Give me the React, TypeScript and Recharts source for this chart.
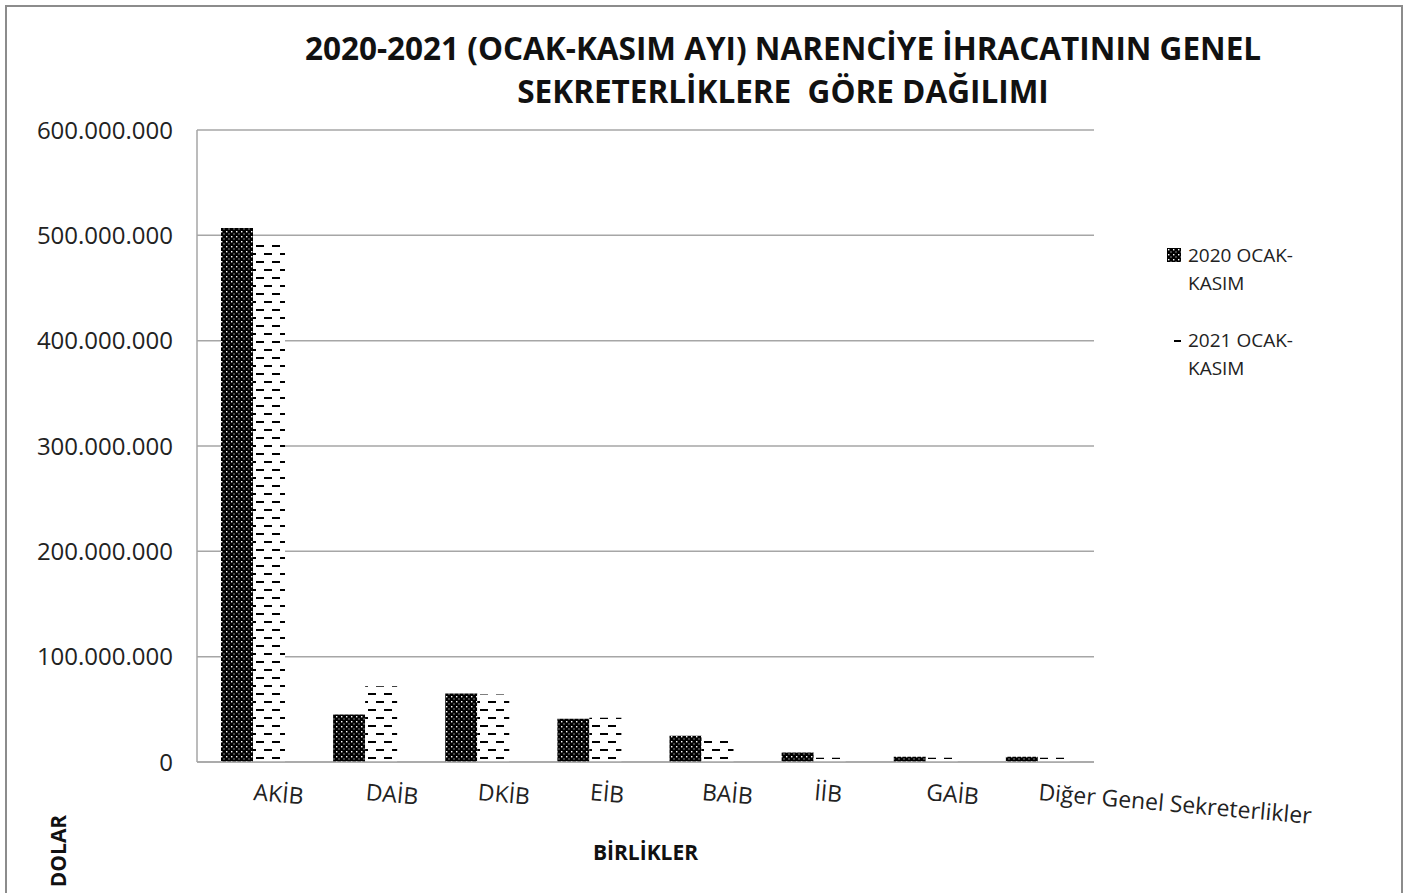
import React from "react";
import { BarChart, Bar, XAxis, YAxis, CartesianGrid } from "recharts";

const categories = [
  "AKİB",
  "DAİB",
  "DKİB",
  "EİB",
  "BAİB",
  "İİB",
  "GAİB",
  "Diğer Genel Sekreterlikler",
];
const exports2020 = [507e6, 45e6, 65e6, 41e6, 25e6, 9e6, 5e6, 5e6];
const exports2021 = [492e6, 72e6, 64e6, 42e6, 20e6, 4e6, 4e6, 4e6];
const yTicks = [0, 100e6, 200e6, 300e6, 400e6, 500e6, 600e6];
const seriesNames = ["2020 OCAK-KASIM", "2021 OCAK-KASIM"];

const data = categories.map((name, i) => ({
  name,
  y2020: exports2020[i],
  y2021: exports2021[i],
}));

const FONT = "'Open Sans', sans-serif";

const fmt = (v: number) =>
  v === 0 ? "0" : String(Math.round(v)).replace(/\B(?=(\d{3})+(?!\d))/g, ".");

function XTick({ x, y, payload }: any) {
  return (
    <g transform={`translate(${x},${y + 38})`}>
      <text
        transform="rotate(5)"
        textAnchor="start"
        fontFamily={FONT}
        fontSize={23}
        fill="#222"
      >
        {payload.value}
      </text>
    </g>
  );
}

// legend sits outside the chart so it does not shrink the plot
function LegendBox() {
  return (
    <div
      style={{
        position: "absolute",
        left: 1167,
        top: 241,
        fontFamily: FONT,
        fontSize: 19,
        color: "#222",
      }}
    >
      {seriesNames.map((s, i) => {
        const [a, b] = s.split(" OCAK-");
        return (
          <div
            key={s}
            style={{ display: "flex", alignItems: "flex-start", marginBottom: 29 }}
          >
            <svg width={14} height={14} style={{ marginTop: 7, marginRight: 7 }}>
              {i === 0 ? (
                <rect width={14} height={14} fill="url(#pat2020)" />
              ) : (
                <rect x={7} y={7} width={7} height={2} fill="#000" />
              )}
            </svg>
            <div style={{ lineHeight: "28px" }}>
              {a} OCAK-
              <br />
              {b}
            </div>
          </div>
        );
      })}
    </div>
  );
}

export default function App() {
  return (
    <div
      style={{
        position: "fixed",
        left: 0,
        top: 0,
        width: 1405,
        height: 893,
        background: "#fff",
        overflow: "hidden",
      }}
    >
      <div
        style={{
          position: "absolute",
          left: 5,
          top: 5,
          width: 1394,
          height: 950,
          border: "2px solid #8c8c8c",
        }}
      />
      <div
        style={{
          position: "absolute",
          left: 283,
          top: 26,
          width: 1000,
          textAlign: "center",
          fontFamily: FONT,
          fontWeight: 700,
          fontSize: 31.5,
          lineHeight: "43px",
          color: "#111",
        }}
      >
        2020-2021 (OCAK-KASIM AYI) NARENCİYE İHRACATININ GENEL
        <br />
        SEKRETERLİKLERE&nbsp; GÖRE DAĞILIMI
      </div>
      <div
        style={{
          position: "absolute",
          left: 58,
          top: 851,
          transform: "translate(-50%, -50%) rotate(-90deg)",
          fontFamily: FONT,
          fontWeight: 700,
          fontSize: 21,
          color: "#111",
        }}
      >
        DOLAR
      </div>
      <div style={{ position: "absolute", left: 0, top: 0 }}>
        <BarChart
          width={1405}
          height={893}
          data={data}
          margin={{ top: 130, right: 311, bottom: 31, left: 47 }}
          barCategoryGap={24}
          barGap={0}
        >
          <defs>
            <pattern
              id="pat2020"
              width={5}
              height={5}
              patternUnits="userSpaceOnUse"
            >
              <rect width={5} height={5} fill="#000" />
              <rect x={1} y={1} width={1.4} height={1.4} fill="#fff" />
              <rect x={3.5} y={3.5} width={1} height={1} fill="#fff" />
            </pattern>
            <pattern
              id="pat2021"
              width={16}
              height={16}
              patternUnits="userSpaceOnUse"
            >
              <rect width={16} height={16} fill="#fff" />
              <rect x={0} y={5} width={8} height={2} fill="#000" />
              <rect x={8} y={13} width={8} height={2} fill="#000" />
            </pattern>
          </defs>
          <CartesianGrid vertical={false} stroke="#a6a6a6" strokeWidth={1.5} />
          <XAxis
            dataKey="name"
            height={100}
            interval={0}
            tickLine={false}
            tickSize={0}
            tickMargin={0}
            axisLine={{ stroke: "#a6a6a6", strokeWidth: 1.5 }}
            tick={<XTick />}
            label={{
              value: "BİRLİKLER",
              position: "insideBottom",
              offset: 2,
              style: {
                fontFamily: FONT,
                fontWeight: 700,
                fontSize: 21,
                fill: "#111",
              },
            }}
          />
          <YAxis
            width={150}
            domain={[0, 600e6]}
            ticks={yTicks}
            tickFormatter={fmt}
            tickLine={false}
            tickSize={0}
            tickMargin={24}
            axisLine={{ stroke: "#a6a6a6", strokeWidth: 1.5 }}
            tick={{ fontFamily: FONT, fontSize: 24, fill: "#222" }}
          />
          <Bar
            dataKey="y2020"
            name={seriesNames[0]}
            fill="url(#pat2020)"
            isAnimationActive={false}
          />
          <Bar
            dataKey="y2021"
            name={seriesNames[1]}
            fill="url(#pat2021)"
            isAnimationActive={false}
          />
        </BarChart>
      </div>
      <LegendBox />
    </div>
  );
}
